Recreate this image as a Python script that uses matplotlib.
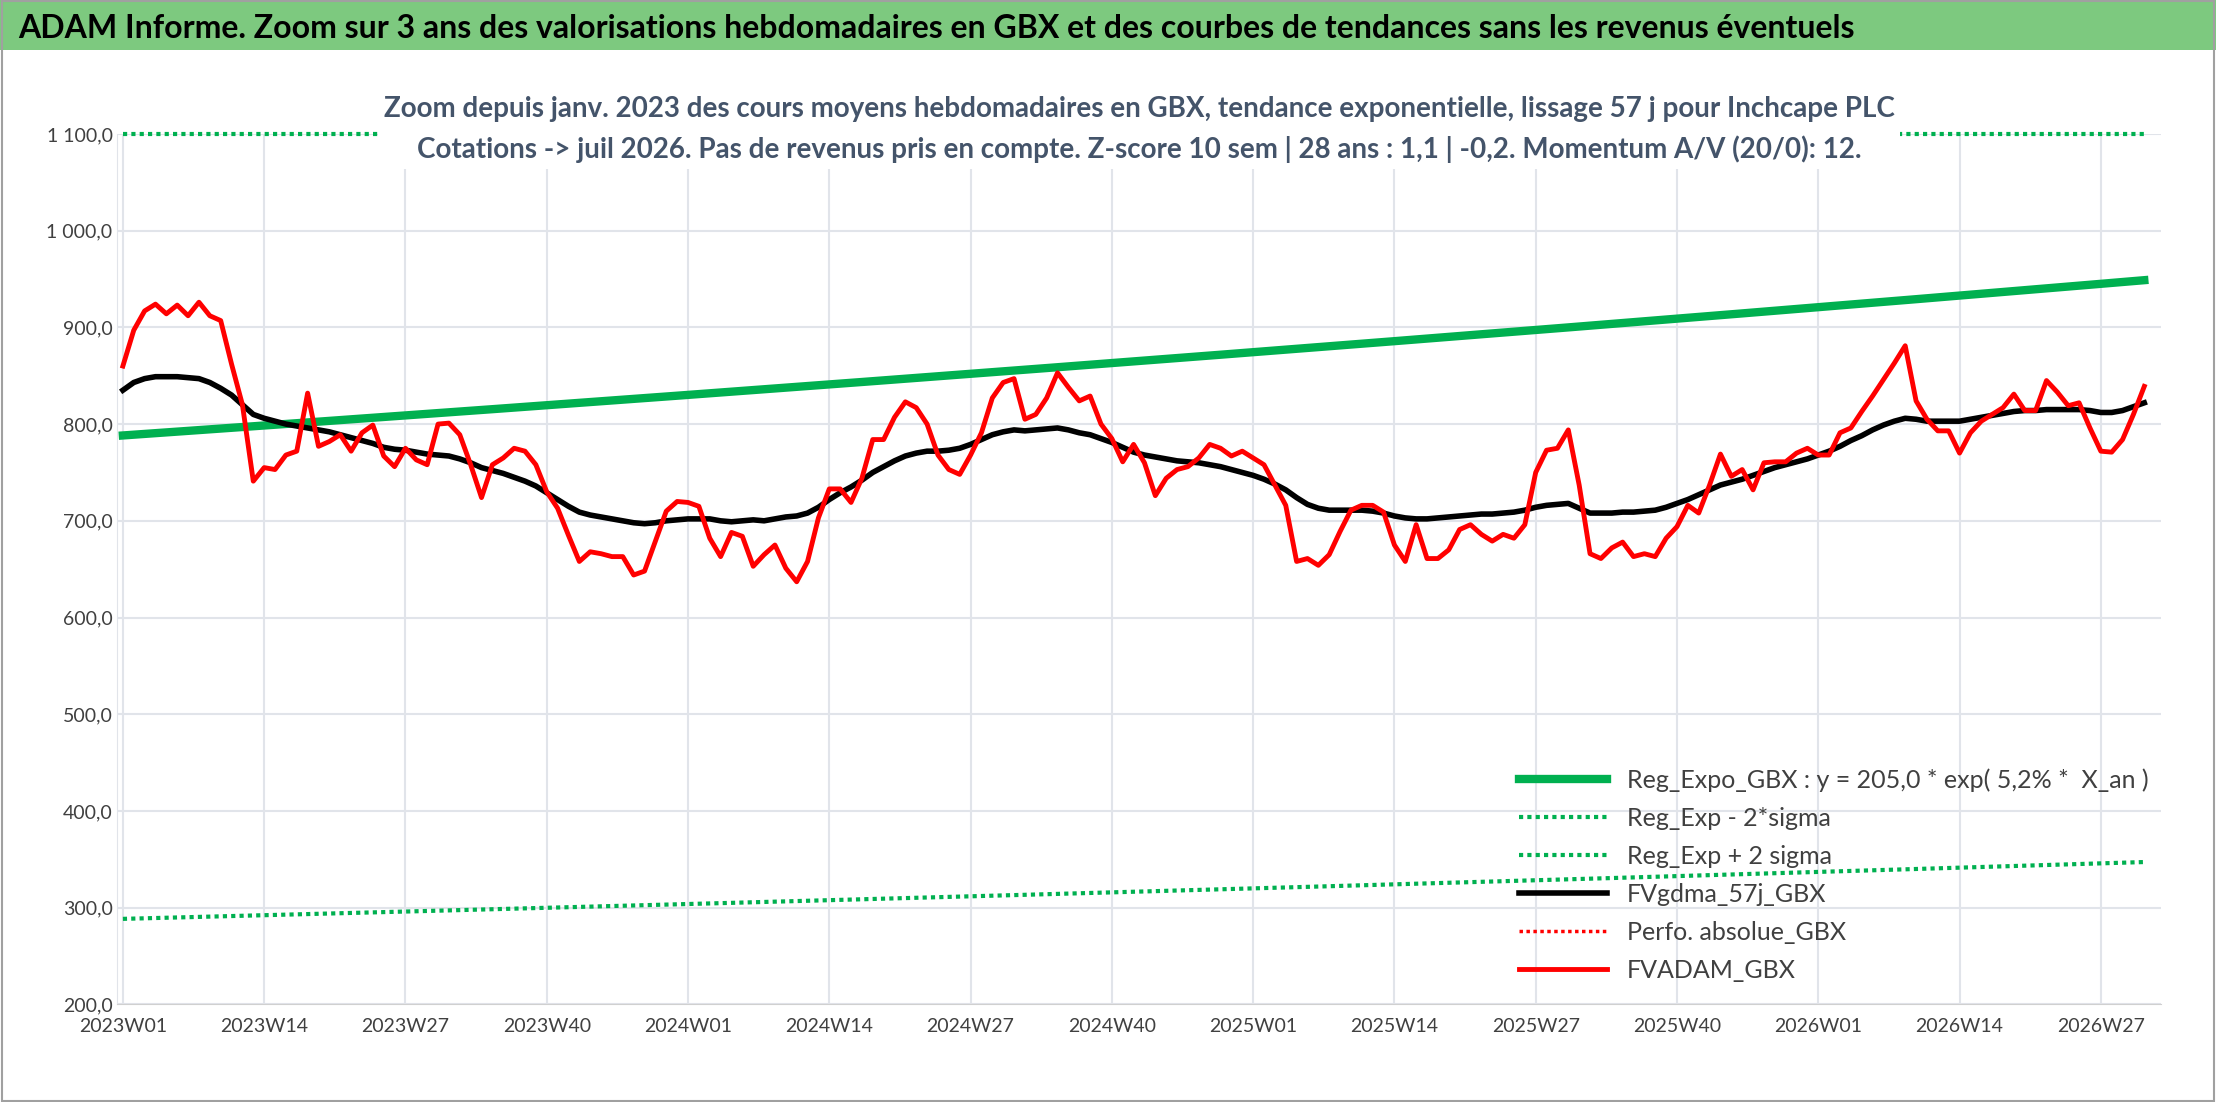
import matplotlib
matplotlib.use("Agg")
import matplotlib.pyplot as plt
import numpy as np

plt.rcParams['font.family'] = ['Lato', 'DejaVu Sans']

# FVADAM_GBX weekly, 2023W01 ..
fvadam = [860, 897, 917, 924, 914, 923, 912, 926, 912, 907, 862, 820, 741, 755, 753, 768, 772, 832, 777, 782,
          789, 772, 791, 799, 767, 756, 775, 763, 758, 800, 801, 789, 758, 724, 758, 765, 775, 772, 758, 730,
          713, 685, 658, 668, 666, 663, 663, 644, 648, 679, 710, 720, 719, 715, 682, 663, 688, 684, 653, 665,
          675, 651, 637, 658, 703, 733, 733, 719, 744, 784, 784, 807, 823, 817, 800, 768, 753, 748, 768, 791,
          827, 843, 847, 805, 810, 827, 853, 838, 824, 829, 800, 785, 761, 779, 760, 726, 744, 753, 756, 765,
          779, 775, 767, 772, 765, 758, 737, 716, 658, 661, 654, 665, 689, 711, 716, 716, 709, 675, 658, 696,
          661, 661, 670, 691, 696, 686, 679, 686, 682, 696, 750, 773, 775, 794, 737, 666, 661, 672, 678, 663,
          666, 663, 682, 694, 716, 708, 737, 769, 746, 753, 732, 760, 761, 761, 770, 775, 768, 768, 791, 796,
          813, 829, 846, 863, 881, 824, 805, 793, 793, 770, 791, 803, 810, 817, 831, 814, 814, 845, 833, 819,
          822, 796, 772, 771, 784, 810, 839]
# FVgdma_57j_GBX
fvgdma = [835, 843, 847, 849, 849, 849, 848, 847, 843, 837, 830, 820, 810, 806, 803, 800, 798, 796, 794, 792,
          789, 786, 783, 780, 776, 774, 773, 771, 769, 768, 767, 764, 760, 755, 752, 749, 745, 741, 736, 729,
          722, 715, 709, 706, 704, 702, 700, 698, 697, 698, 700, 701, 702, 702, 702, 700, 699, 700, 701, 700,
          702, 704, 705, 708, 714, 722, 729, 735, 742, 750, 756, 762, 767, 770, 772, 772, 773, 775, 779, 784,
          789, 792, 794, 793, 794, 795, 796, 794, 791, 789, 785, 781, 776, 771, 768, 766, 764, 762, 761, 760,
          758, 756, 753, 750, 747, 743, 738, 732, 724, 717, 713, 711, 711, 711, 711, 710, 708, 705, 703, 702,
          702, 703, 704, 705, 706, 707, 707, 708, 709, 711, 714, 716, 717, 718, 713, 708, 708, 708, 709, 709,
          710, 711, 714, 718, 722, 727, 732, 737, 740, 743, 747, 751, 755, 758, 761, 764, 768, 772, 777, 783,
          788, 794, 799, 803, 806, 805, 803, 803, 803, 803, 805, 807, 809, 811, 813, 814, 814, 815, 815, 815,
          815, 814, 812, 812, 814, 818, 822]

# regression from legend: y = 205,0 * exp(5,2% * X_an)
reg_a = 205.0
reg_b = 0.052
x_an_start = 25.9
sigma_factor = 0.366
sigma_up_factor = 2.73

tick_labels = ["2023W01", "2023W14", "2023W27", "2023W40", "2024W01", "2024W14", "2024W27", "2024W40",
               "2025W01", "2025W14", "2025W27", "2025W40", "2026W01", "2026W14", "2026W27"]

n = len(fvadam)
x = np.arange(n)
x_an = x_an_start + x / 52.18
reg = reg_a * np.exp(reg_b * x_an)
low = reg * sigma_factor
high = np.minimum(reg * sigma_up_factor, 1100)

fig = plt.figure(figsize=(22.16, 11.02), dpi=100)
fig.patches.append(plt.Rectangle((0, 0.955), 1, 0.045, transform=fig.transFigure,
                                 facecolor='#7DC97F', edgecolor='none'))
fig.patches.append(plt.Rectangle((0.001, 0.001), 0.998, 0.998, transform=fig.transFigure,
                                 facecolor='none', edgecolor='#A0A0A0', lw=1.5))
fig.text(0.008, 0.974, "ADAM Informe. Zoom sur 3 ans des valorisations hebdomadaires en GBX et des courbes de tendances sans les revenus éventuels",
         fontsize=23, fontweight='bold', va='center', ha='left')

ax = fig.add_axes([0.053, 0.0885, 0.922, 0.79])
ax.plot(x, reg, color='#00B050', lw=6, label="Reg_Expo_GBX : y = 205,0 * exp( 5,2% *  X_an )", zorder=3)
ax.plot(x, low, color='#00B050', lw=3, ls=(0, (1, 1)), label="Reg_Exp - 2*sigma")
ax.plot(x, high, color='#00B050', lw=3, ls=(0, (1, 1)), label="Reg_Exp + 2 sigma", clip_on=False)
ax.plot(x, fvgdma, color='black', lw=4, label="FVgdma_57j_GBX", zorder=4)
ax.plot([], [], color='red', lw=2.5, ls=(0, (1, 1)), label="Perfo. absolue_GBX")
ax.plot(x, fvadam, color='#FF0000', lw=3.5, label="FVADAM_GBX", zorder=5)

ax.set_xlim(-0.5, n - 0.5 + 1)
ax.set_ylim(200, 1100)
ax.set_yticks(np.arange(200, 1101, 100))
ax.set_yticklabels([f"{v:,.1f}".replace(",", " ").replace(".", ",") for v in np.arange(200, 1101, 100)])
ax.set_xticks(np.arange(len(tick_labels)) * 13)
ax.set_xticklabels(tick_labels)
ax.tick_params(labelsize=14, colors='#404040', length=0)
ax.tick_params(axis='x', pad=10)
ax.grid(True, color='#E1E4EA', lw=1.5)
ax.set_axisbelow(True)
for s in ['top', 'right']:
    ax.spines[s].set_visible(False)
ax.spines['left'].set_color('#E1E4EA')
ax.spines['bottom'].set_color('#D0D0D0')

ax.text(0.5, 1.005, "Zoom depuis janv. 2023 des cours moyens hebdomadaires en GBX, tendance exponentielle, lissage 57 j pour Inchcape PLC\n"
        "Cotations -> juil 2026. Pas de revenus pris en compte. Z-score 10 sem | 28 ans : 1,1 | -0,2. Momentum A/V (20/0): 12.",
        transform=ax.transAxes, ha='center', va='center', fontsize=20, fontweight='bold', color='#44546A',
        linespacing=1.6, bbox=dict(facecolor='white', edgecolor='none', pad=4), zorder=10)

leg = ax.legend(loc='lower right', bbox_to_anchor=(1.005, 0.0), frameon=False, fontsize=18,
                handlelength=3.5, labelspacing=0.6)
for t in leg.get_texts():
    t.set_color('#404040')

fig.savefig("out.png", dpi=100)
